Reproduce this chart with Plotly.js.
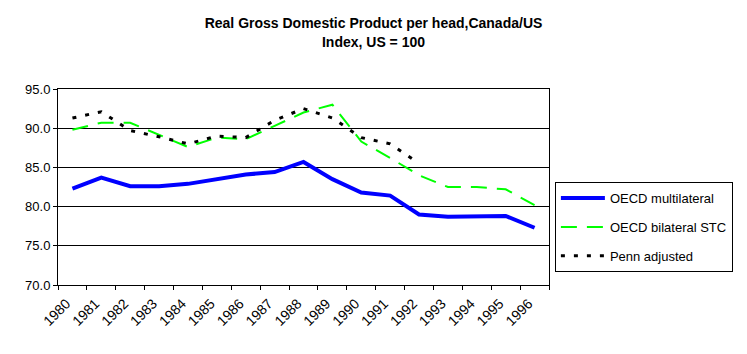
<!DOCTYPE html>
<html>
<head>
<meta charset="utf-8">
<script src="https://cdn.plot.ly/plotly-3.0.1.min.js"></script>
<style>html,body{margin:0;padding:0;background:#fff;}#chart{width:747px;height:354px;}</style>
</head>
<body>
<div id="chart"></div>
<script>
const years = ["1980","1981","1982","1983","1984","1985","1986","1987","1988","1989","1990","1991","1992","1993","1994","1995","1996"];
const oecdMultilateral = [82.3,83.7,82.6,82.6,82.9,83.5,84.1,84.4,85.7,83.5,81.8,81.4,79.0,78.7,78.7,78.8,77.3];
const oecdBilateral = [89.8,90.7,90.7,89.2,87.6,88.8,88.6,90.3,92.0,93.0,88.3,86.2,84.0,82.5,82.5,82.2,80.2];
const pennYears = ["1980","1981","1982","1983","1984","1985","1986","1987","1988","1989","1990","1991","1992"];
const pennAdjusted = [91.3,92.1,89.7,88.9,88.0,89.0,88.8,91.0,92.5,91.3,88.8,88.0,85.5];
const yTicks = [70,75,80,85,90,95];

const fam = "Liberation Sans, Arial, sans-serif";
const font = {family: fam, size: 13, color: "#000"};

const traces = [
  {x: years, y: oecdMultilateral, name: "OECD multilateral", type: "scatter", mode: "lines",
   line: {color: "rgb(0,0,255)", width: 4}, legendgroup: "a"},
  {x: years, y: oecdBilateral, name: "OECD bilateral STC", type: "scatter", mode: "lines",
   line: {color: "rgb(0,255,0)", width: 2, dash: "16px,10px"}, legendgroup: "b"},
  {x: pennYears, y: pennAdjusted, name: "Penn adjusted", type: "scatter", mode: "lines",
   line: {color: "#000", width: 3, dash: "4px,9px"}, legendgroup: "c"}
];

const layout = {
  width: 747, height: 354,
  margin: {l: 58, r: 198, t: 89, b: 69},
  paper_bgcolor: "#fff", plot_bgcolor: "#fff",
  font: font,
  showlegend: true,
  title: {text: "<b>Real Gross Domestic Product per head,Canada/US<br>Index, US = 100</b>",
          font: {family: fam, size: 14, color: "#000"},
          x: 0.5, xref: "container", xanchor: "center", y: 0.92, yref: "container", yanchor: "top"},
  xaxis: {type: "category", tickangle: -45, tickson: "boundaries", ticks: "outside", ticklen: 4,
          tickcolor: "#000", showline: true, linecolor: "#000", linewidth: 1, mirror: true,
          showgrid: false, tickfont: {family: fam, size: 14, color: "#000"},
          ticklabelshift: -6, ticklabelstandoff: 4,
          range: [-0.5, 16.5], fixedrange: true},
  yaxis: {range: [70, 95], tickvals: yTicks, ticktext: yTicks.map(v => v.toFixed(1)),
          ticks: "outside", ticklen: 4, tickcolor: "#000", showline: true, linecolor: "#000",
          linewidth: 1, mirror: true, showgrid: true, gridcolor: "#000", gridwidth: 1,
          zeroline: false, tickfont: font},
  legend: {x: 1.012, xanchor: "left", y: 0.525, yanchor: "top", bordercolor: "#000", borderwidth: 1,
           bgcolor: "#fff", font: {family: fam, size: 13, color: "#000"},
           tracegroupgap: 9, itemwidth: 44, traceorder: "grouped"}
};

Plotly.newPlot("chart", traces, layout, {displayModeBar: false, staticPlot: true});
</script>
</body>
</html>
